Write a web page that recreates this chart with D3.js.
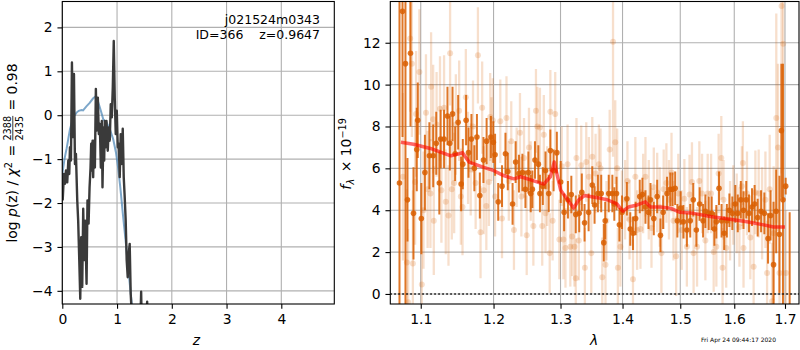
<!DOCTYPE html>
<html>
<head>
<meta charset="utf-8">
<script src="https://cdn.jsdelivr.net/npm/d3@7"></script>
<style>
  body { margin: 0; background: #fff; }
  svg { display: block; font-family: "DejaVu Sans", sans-serif; }
  text { white-space: pre; }
</style>
</head>
<body>
<svg id="fig" width="800" height="350"></svg>
<script>
// ---- left panel: log p(z) ----
const zChi = [0.007,0.03,0.05,0.067,0.09,0.11,0.127,0.14,0.158,0.176,0.195,0.213,0.231,0.249,0.273,0.29,0.31,0.328,0.345,0.364,
  0.382,0.4,0.418,0.443,0.46,0.48,0.498,0.516,0.528,0.54,0.553,0.564,0.576,0.595,0.613,0.631,0.649,0.667,0.685,0.704,
  0.722,0.734,0.753,0.765,0.776,0.795,0.807,0.83,0.849,0.867,0.885,0.904,0.922,0.94,0.958,0.976,0.995,1.013,1.031,1.049,
  1.067,1.085,1.104,1.122,1.14,1.158,1.176,1.195,1.213,1.231,1.249,1.267,1.30,1.40,1.44,1.47,1.55,1.58,2.0,4.97];
const logpChi = [-1.94,-1.34,-1.56,-1.26,-1.53,-1.03,-1.34,-0.73,-1.03,1.2,-0.5,0.94,-1.11,-0.88,-1.94,-2.4,-3.3,-4.18,-2.78,-3.91,
  -2.13,-3.3,-2.4,-3.84,-1.94,-2.47,-1.64,-1.19,-0.65,-1.26,-0.58,-1.41,-0.58,-1.19,0.6,-0.35,0.4,-0.43,-0.2,-1.19,
  -0.13,-1.64,-0.28,-1.03,-0.13,-0.73,-0.13,-0.81,-0.28,-0.58,0.25,-0.05,0.63,1.69,0.4,-0.43,0.1,-0.73,-0.65,-1.41,
  -0.43,-1.11,-0.31,-1.41,-1.87,-2.4,-3.3,-3.69,-3.15,-2.93,-4.06,-4.5,-5.5,-6.0,-4.02,-6.0,-4.25,-6.5,-9,-20];

const zFit = [0,0.04,0.08,0.14,0.2,0.26,0.3,0.35,0.38,0.44,0.5,0.56,0.61,0.65,0.7,0.75,0.81,0.87,0.93,0.98,
  1.02,1.06,1.11,1.16,1.2,1.25,1.3,1.4];
const logpFit = [-1.34,-1.0,-0.75,-0.32,-0.05,0.06,0.1,0.12,0.11,0.2,0.28,0.38,0.43,0.32,0.12,-0.1,-0.17,-0.32,-0.55,-0.85,
  -1.2,-1.65,-2.3,-2.9,-3.45,-4.05,-4.7,-6.0];

const zTicks = [0, 1, 2, 3, 4];
const logpTicks = [-4, -3, -2, -1, 0, 1, 2];

// ---- right panel: spectrum ----
// dark (first) spectrum
const lamA = [1.0724,1.0763,1.0801,1.0827,1.0866,1.0905,1.0948,1.0961,1.1008,1.1055,1.1114,1.1165,1.1206,1.1247,1.1265,1.1311,1.1357,1.1389,1.1426,1.1462,1.1503,1.1544,1.1567,1.1613,1.1646,1.1687,1.1728,1.1764,1.1805,1.1856,1.1901,1.1962,1.1997,
  1.2022,1.2067,1.2122,1.2172,1.2206,1.2276,1.2321,1.2370,1.2421,1.2466,1.2510,1.2545,1.2570,1.2609,1.2660,1.2684,1.2728,1.2769,1.2818,1.2843,1.2893,1.2943,1.3003,1.3056,1.3116,1.3169,1.3239,1.3294,1.3335,1.3379,1.3444,1.3503,
  1.3540,1.3594,1.3648,1.3690,1.3713,1.3771,1.3831,1.3863,1.3900,1.3948,1.3992,1.4073,1.4130,1.4176,1.4221,1.4291,1.4337,1.4389,1.4441,1.4476,1.4533,1.4592,1.4649,1.4696,1.4765,1.4822,1.4862,1.4909,1.4948,1.5007,1.5056,1.5119,1.5180,1.5235,
  1.5291,1.5352,1.5415,1.5457,1.5519,1.5574,1.5624,1.5661,1.5711,1.5759,1.5809,1.5859,1.5907,1.5963,1.6020,1.6067,1.6126,1.6178,1.6231,1.6284,1.6343,1.6394,1.6454,1.6521,1.6586,1.6659,1.6710,1.6769,1.6822,1.6887,1.6927,1.6959,1.7014,1.7095];
const fluxA = [5.3,13.5,11.0,4.5,11.5,3.85,6.9,8.3,3.6,5.8,6.6,6.6,7.2,5.3,7.4,7.4,8.5,7.2,8.6,6.7,8.2,5.25,6.2,8.3,6.75,7.4,6.0,7.5,4.7,6.4,7.3,7.5,7.25,
  6.65,4.4,5.15,6.7,5.85,4.3,6.3,5.75,5.8,5.0,5.8,4.8,5.0,6.4,6.2,4.8,5.15,5.9,4.8,6.85,5.9,6.75,5.35,3.9,4.5,4.75,3.8,3.85,4.85,3.4,3.9,5.2,
  4.25,4.8,4.8,2.45,3.5,4.8,4.8,4.3,4.8,3.3,3.9,4.55,3.1,2.9,3.6,4.65,4.75,4.15,3.9,4.5,3.6,4.65,2.8,3.9,4.8,5.0,5.0,5.05,3.5,4.1,3.45,3.05,3.5,4.5,
  3.05,4.3,3.5,3.95,3.85,3.85,3.1,3.45,5.05,3.5,2.9,3.5,4.0,3.85,4.3,3.85,4.5,4.0,4.5,3.85,4.15,4.3,3.65,3.95,3.85,2.65,3.75,1.4,3.95,2.85,7.8,4.5,5.15,-1.5];
const errA = [10,6,12,2.0,3.5,2.2,2.0,1.8,1.7,1.8,1.6,1.5,1.5,1.5,1.4,1.4,1.4,1.3,1.3,1.3,1.3,1.3,1.2,1.2,1.2,1.2,1.1,1.1,1.1,1.1,1.1,1.0,1.0,
  1.0,0.9,1.0,1.0,0.9,1.0,1.0,0.9,0.9,0.9,1.0,0.9,0.9,0.9,0.9,0.9,0.9,0.9,0.9,1.0,1.0,1.0,1.0,0.9,0.9,0.9,0.9,0.9,0.9,0.9,0.9,0.9,
  0.9,0.9,0.9,0.9,0.9,0.9,0.9,0.8,0.8,0.8,0.8,0.8,0.8,0.8,0.8,0.8,0.8,0.8,0.8,0.8,0.8,0.8,0.8,0.8,0.8,0.8,0.8,0.8,0.8,0.8,0.8,0.8,0.8,0.8,
  0.8,0.8,0.8,0.8,0.8,0.8,0.8,0.8,0.8,0.8,0.8,0.8,0.8,0.8,0.9,0.9,0.9,0.9,0.9,0.9,0.9,0.9,0.9,1.0,1.0,1.2,1.2,3.0,2.0,2.8,3.2,6.5,0.4,5.4];

// faint (second) spectrum
const lamB = [1.0768,1.0819,1.0836,1.0862,1.0884,1.0897,1.0926,1.0939,1.0982,1.1014,1.1036,1.1069,1.1091,1.1128,1.1137,1.1165,1.1173,1.1210,1.1256,1.1275,1.1311,1.1334,1.1371,1.1393,1.1416,1.1448,1.1471,1.1517,1.1540,1.1563,1.1609,1.1640,1.1677,1.1709,1.1746,1.1778,1.1815,1.1838,1.1860,1.1897,1.1934,1.1952,1.1970,
  1.1989,1.2022,1.2097,1.2122,1.2187,1.2221,1.2257,1.2296,1.2336,1.2385,1.2406,1.2445,1.2485,1.2519,1.2545,1.2585,1.2624,1.2645,1.2684,1.2719,1.2743,1.2769,1.2794,1.2833,1.2843,1.2878,1.2918,1.2982,1.3019,1.3045,1.3077,1.3110,1.3153,1.3181,1.3218,1.3250,1.3239,1.3287,1.3326,1.3384,1.3406,1.3448,1.3487,1.3503,
  1.3556,1.3610,1.3637,1.3665,1.3718,1.3734,1.3787,1.3842,1.3879,1.3911,1.3922,1.3964,1.3990,1.4043,1.4083,1.4118,1.4176,1.4216,1.4246,1.4303,1.4349,1.4389,1.4446,1.4493,1.4533,1.4592,1.4637,1.4666,1.4706,1.4753,1.4799,1.4844,1.4879,1.4926,1.4965,1.5026,1.5074,1.5119,1.5167,1.5211,1.5241,
  1.5304,1.5346,1.5396,1.5457,1.5500,1.5563,1.5611,1.5661,1.5704,1.5754,1.5778,1.5796,1.5846,1.5920,1.5981,1.6047,1.6099,1.6146,1.6166,1.6178,1.6245,1.6310,1.6375,1.6409,1.6474,1.6541,1.6607,1.6640,1.6692,1.6739,1.6771,1.6824,1.6858,1.6890,1.6930,1.6963,1.7020];
const fluxB = [5.6,1.5,-0.4,12.2,11.0,1.45,5.35,8.6,10.6,0.45,4.0,8.65,5.0,4.8,9.9,8.35,3.5,8.1,8.85,4.95,8.9,4.4,3.75,11.5,5.0,5.3,8.1,8.75,4.65,4.15,9.4,6.5,5.95,8.0,5.3,11.4,2.95,8.9,4.95,4.2,5.35,8.45,7.4,
  8.3,4.65,8.25,3.6,8.4,5.4,7.3,3.05,6.05,7.7,4.65,6.5,2.8,7.0,5.4,3.25,8.75,8.0,7.95,3.25,7.6,3.85,5.15,1.95,8.7,3.5,8.6,2.6,6.1,2.6,2.2,6.2,2.25,2.75,2.25,6.5,0.75,2.55,6.15,1.25,6.3,5.6,1.95,6.55,
  5.75,6.2,6.0,0.8,1.4,3.5,6.9,12.05,7.25,6.0,1.25,2.25,4.0,4.5,5.4,3.55,0.7,5.6,3.05,3.1,4.8,5.6,4.5,3.15,5.1,4.85,4.15,1.95,5.0,5.3,4.5,5.8,3.5,1.8,4.8,3.05,4.55,2.25,4.75,5.35,1.95,
  2.25,5.4,4.8,2.55,4.8,4.8,2.0,2.25,5.75,6.5,1.25,4.5,2.2,3.5,4.25,3.85,3.2,5.15,6.25,2.2,4.8,2.7,1.3,4.85,4.8,3.85,4.5,1.0,5.0,-0.35,2.9,8.4,7.0,1.0,13.75,11.95,1.0];
const errB = [4,3.5,3.5,3.5,3.5,3.5,3,3,3,3,2.8,2.8,2.8,2.6,2.6,2.6,2.6,2.5,2.5,2.5,2.5,2.5,2.4,2.5,2.4,2.4,2.4,2.4,2.3,2.3,2.3,2.2,2.2,2.2,2.2,2.3,2.2,2.2,2.1,2.1,2.1,2.1,2.0,
  2.0,1.9,2.0,1.9,2.0,1.9,1.9,1.9,1.9,1.9,1.9,1.9,1.9,1.9,1.9,1.9,2.0,1.9,1.9,1.9,1.9,1.9,1.9,1.9,2.0,1.9,2.0,1.9,1.9,1.9,1.9,1.9,1.9,1.9,1.9,1.9,1.9,1.9,1.9,1.9,1.9,1.9,1.9,1.9,
  1.9,1.9,1.9,1.9,1.9,1.9,1.9,5.5,2.0,1.9,1.9,1.9,1.9,1.9,1.9,1.9,1.9,1.9,1.9,1.9,1.9,1.9,1.9,1.9,1.9,1.9,1.9,1.9,1.9,1.9,1.9,1.9,1.9,1.9,1.9,1.9,1.9,1.9,1.9,1.9,1.9,
  1.9,1.9,1.9,1.9,1.9,1.9,1.9,1.9,1.9,2.0,1.9,1.9,1.9,1.9,1.9,1.9,1.9,1.9,2.0,1.9,2.0,2.0,2.0,2.0,2.1,2.2,2.3,2.5,2.6,2.8,3.2,5.0,4.0,3.0,8.0,6.0,3.0];

// best-fit model
const lamModel = [1.0742,1.0905,1.1128,1.1403,1.1517,1.1563,1.1654,1.1860,1.1997,1.2146,1.2296,1.2396,1.2545,1.2743,1.2843,1.2903,1.2943,1.3003,1.3110,1.3206,
  1.3287,1.3379,1.3584,1.3745,1.3906,1.4003,1.4100,1.4246,1.4389,1.4476,1.4649,1.4822,1.4995,1.5241,1.5550,1.5920,1.6245,1.6572,1.6769,1.7000];
const fluxModel = [7.25,7.15,6.95,6.6,6.7,6.75,6.3,6.05,5.9,5.65,5.5,5.6,5.45,5.25,5.6,6.3,5.75,4.95,4.5,4.1,
  4.5,4.7,4.6,4.5,4.3,3.95,4.15,4.25,4.4,4.15,4.15,4.1,3.9,3.85,3.7,3.57,3.45,3.3,3.2,3.2];

const lamTicks = [1.1, 1.2, 1.3, 1.4, 1.5, 1.6, 1.7];
const fluxTicks = [0, 2, 4, 6, 8, 10, 12];

const objName = "j021524m0343";
const objInfo = "ID=366    z=0.9647";
const stamp = "Fri Apr 24 09:44:17 2020";

// ---------------------------------------------------------------
const svg = d3.select('#fig');
const FS = 13.9, TICK = 4.86, GRID = '#b0b0b0', ORANGE = '#d95f02';

const boxL = { x0: 62.3, x1: 334.3, y0: 1.5, y1: 304 };
const boxR = { x0: 390.3, x1: 799, y0: 1.5, y1: 304 };

const xZ = d3.scaleLinear().domain([0, 4.968]).range([boxL.x0, boxL.x1]);
const yP = d3.scaleLinear().domain([-4.30, 2.59]).range([boxL.y1, boxL.y0]);
const xLam = d3.scaleLog().domain([1.0607, 1.7287]).range([boxR.x0, boxR.x1]);
const yF = d3.scaleLinear().domain([-0.48, 13.97]).range([boxR.y1, boxR.y0]);

const defs = svg.append('defs');
[['clipL', boxL], ['clipR', boxR]].forEach(([id, b]) => {
  defs.append('clipPath').attr('id', id).append('rect')
    .attr('x', b.x0).attr('y', b.y0).attr('width', b.x1 - b.x0).attr('height', b.y1 - b.y0);
});

function grid(b, xs, xt, ys, yt) {
  const g = svg.append('g').attr('stroke', GRID).attr('stroke-width', 1.1);
  g.selectAll('.gx').data(xt).join('line')
    .attr('x1', d => xs(d)).attr('x2', d => xs(d)).attr('y1', b.y0).attr('y2', b.y1);
  g.selectAll('.gy').data(yt).join('line')
    .attr('x1', b.x0).attr('x2', b.x1).attr('y1', d => ys(d)).attr('y2', d => ys(d));
}

function axes(b, xs, xt, xfmt, ys, yt, yfmt) {
  const gx = svg.append('g').attr('transform', `translate(0,${b.y1})`)
    .call(d3.axisBottom(xs).tickValues(xt).tickFormat(xfmt).tickSize(TICK).tickPadding(TICK));
  const gy = svg.append('g').attr('transform', `translate(${b.x0},0)`)
    .call(d3.axisLeft(ys).tickValues(yt).tickFormat(yfmt).tickSize(TICK).tickPadding(TICK));
  [gx, gy].forEach(g => {
    g.select('.domain').remove();
    g.attr('font-size', null).attr('font-family', null);
    g.selectAll('text').style('font-size', FS + 'px').attr('fill', '#000');
    g.selectAll('line').attr('stroke', '#000').attr('stroke-width', 1.1);
  });
  svg.append('rect').attr('x', b.x0).attr('y', b.y0)
    .attr('width', b.x1 - b.x0).attr('height', b.y1 - b.y0)
    .attr('fill', 'none').attr('stroke', '#000').attr('stroke-width', 1.1);
}

// text made of several runs (for the math labels)
function runs(g, list) {
  let x = 0;
  list.forEach(r => {
    if (r.frac) {
      const a = g.append('text').attr('x', x).attr('y', -6.2).style('font-size', '9.7px').text(r.frac[0]);
      const b = g.append('text').attr('x', x).attr('y', 5.6).style('font-size', '9.7px').text(r.frac[1]);
      const w = Math.max(a.node().getComputedTextLength(), b.node().getComputedTextLength());
      g.append('line').attr('x1', x).attr('x2', x + w).attr('y1', -4.2).attr('y2', -4.2)
        .attr('stroke', '#000').attr('stroke-width', 0.8);
      x += w + 1;
      return;
    }
    const t = g.append('text').attr('x', x).attr('y', r.dy || 0)
      .attr('xml:space', 'preserve')
      .style('font-size', (r.size || FS) + 'px')
      .style('font-style', r.it ? 'italic' : null).text(r.s);
    x += t.node().getComputedTextLength() + (r.gap || 0);
  });
  return x;
}

function rotLabel(cx, cy, list) {
  const outer = svg.append('g').attr('transform', `translate(${cx},${cy}) rotate(-90)`);
  const inner = outer.append('g');
  const w = runs(inner, list);
  inner.attr('transform', `translate(${-w / 2},0)`);
}

// ---- left panel ----
grid(boxL, xZ, zTicks, yP, logpTicks);
const lineL = () => d3.line().x(d => xZ(d[0])).y(d => yP(d[1]));
const gL = svg.append('g').attr('clip-path', 'url(#clipL)');
gL.append('path').datum(d3.zip(zFit, logpFit)).attr('d', lineL())
  .attr('fill', 'none').attr('stroke', 'steelblue').attr('stroke-opacity', 0.7).attr('stroke-width', 2);
gL.append('path').datum(d3.zip(zChi, logpChi)).attr('d', lineL())
  .attr('fill', 'none').attr('stroke', '#3a3a3a').attr('stroke-width', 2.4).attr('stroke-linejoin', 'round');
axes(boxL, xZ, zTicks, d3.format('d'), yP, logpTicks, d3.format('d'));

svg.append('text').attr('x', 320).attr('y', 24).attr('text-anchor', 'end')
  .style('font-size', '12.5px').text(objName);
svg.append('text').attr('x', 320).attr('y', 39).attr('text-anchor', 'end')
  .attr('xml:space', 'preserve').style('font-size', '12.5px').text(objInfo);

svg.append('text').attr('x', xZ(2.45)).attr('y', 345).attr('text-anchor', 'middle')
  .style('font-size', FS + 'px').style('font-style', 'italic').text('z');

rotLabel(17, 153, [
  { s: 'log ' }, { s: 'p', it: true }, { s: '(z) / ' }, { s: 'χ', it: true },
  { s: '2', size: 9.7, dy: -5.5, gap: 1 }, { s: ' = ' }, { frac: ['2388', '2435'] }, { s: ' = 0.98' }
]);

// ---- right panel ----
grid(boxR, xLam, lamTicks, yF, fluxTicks);
const gR = svg.append('g').attr('clip-path', 'url(#clipR)');

function errSeries(g, lam, flux, err, op, bw, r) {
  const data = d3.range(lam.length).map(i => ({ l: lam[i], f: flux[i], e: err[i] }));
  const s = g.append('g');
  s.selectAll('line').data(data).join('line')
    .attr('x1', d => xLam(d.l)).attr('x2', d => xLam(d.l))
    .attr('y1', d => yF(d.f - d.e)).attr('y2', d => yF(d.f + d.e))
    .attr('stroke', ORANGE).attr('stroke-opacity', op).attr('stroke-width', bw);
  s.selectAll('circle').data(data).join('circle')
    .attr('cx', d => xLam(d.l)).attr('cy', d => yF(d.f)).attr('r', r)
    .attr('fill', ORANGE).attr('fill-opacity', op);
}
errSeries(gR, lamB, fluxB, errB, 0.2, 2.3, 3.0);
errSeries(gR, lamA, fluxA, errA, 0.85, 2.0, 2.8);

gR.append('path').datum(d3.zip(lamModel, fluxModel))
  .attr('d', d3.line().x(d => xLam(d[0])).y(d => yF(d[1])))
  .attr('fill', 'none').attr('stroke', 'red').attr('stroke-opacity', 0.6)
  .attr('stroke-width', 3.5).attr('stroke-linejoin', 'round');

gR.append('line').attr('x1', boxR.x0).attr('x2', boxR.x1).attr('y1', yF(0)).attr('y2', yF(0))
  .attr('stroke', '#000').attr('stroke-width', 1.5).attr('stroke-dasharray', '1.5,2.5');

axes(boxR, xLam, lamTicks, d3.format('.1f'), yF, fluxTicks, d3.format('d'));

svg.append('text').attr('x', 594).attr('y', 345).attr('text-anchor', 'middle')
  .style('font-size', FS + 'px').style('font-style', 'italic').text('λ');

rotLabel(351, 154, [
  { s: 'f', it: true, gap: 0.5 }, { s: 'λ', it: true, size: 9.7, dy: 3, gap: 2 },
  { s: ' × 10' }, { s: '−19', size: 9.7, dy: -5.5 }
]);

svg.append('text').attr('x', 701).attr('y', 342).style('font-size', '6px').text(stamp);
</script>
</body>
</html>
